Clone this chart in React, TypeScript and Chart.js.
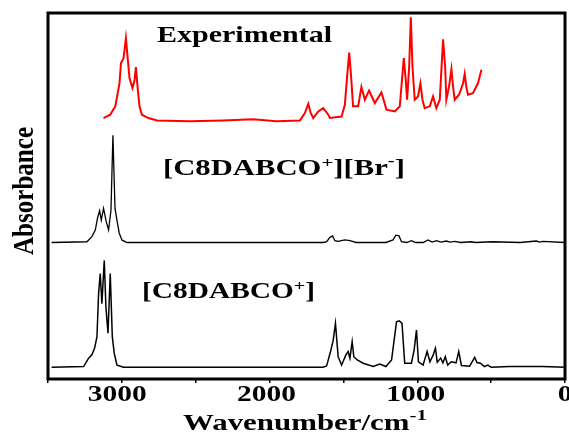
import React, { useEffect, useRef } from 'react';
import { Chart, registerables } from 'chart.js';

Chart.register(...registerables);

// ---- Experimental spectrum (red) ----
const EXP_WAVENUMBER = [
  3092, 3047, 3013, 2985, 2975, 2958, 2942, 2931, 2918, 2898, 2884, 2875, 2864, 2851, 2835, 2791,
  2734, 2512, 2291, 2090, 1932, 1776, 1742, 1720, 1704, 1687, 1653, 1620, 1586, 1575, 1497, 1475,
  1460, 1446, 1433, 1420, 1386, 1364, 1341, 1313, 1274, 1230, 1196, 1140, 1107, 1080, 1067, 1058,
  1044, 1033, 1022, 1007, 985, 969, 955, 940, 906, 884, 862, 839, 817, 803, 795, 777, 761, 750,
  739, 710, 694, 683, 672, 660, 650, 617, 583, 560,
];
const EXP_ABSORBANCE = [
  1.3, 2.2, 4.5, 10.8, 16.3, 17.6, 23.1, 18.1, 12.2, 9.5, 11.7, 15.2, 9.9, 4.5, 2.2, 1.3,
  0.65, 0.4, 0.65, 1.0, 0.4, 0.65, 2.7, 5.2, 2.7, 1.3, 3.1, 4.0, 2.2, 1.3, 1.7, 4.9,
  12.6, 19.2, 12.6, 4.5, 4.5, 9.8, 6.3, 8.8, 5.4, 8.3, 3.6, 3.1, 4.5, 17.7, 11.7, 6.3,
  15.4, 28.8, 15.4, 6.3, 7.2, 10.8, 6.3, 4.0, 4.5, 7.2, 4.0, 6.3, 22.8, 15.4, 6.3, 9.9, 14.7, 9.9,
  6.3, 7.7, 9.5, 10.8, 13.4, 9.5, 7.7, 8.1, 10.8, 14.5,
];

// ---- [C8DABCO+][Br-] calculated spectrum (middle) ----
const BR_WAVENUMBER = [
  3440, 3203, 3170, 3147, 3132, 3118, 3107, 3092, 3074, 3058, 3042, 3029, 3015, 3002, 2987, 2969,
  2935, 1620, 1597, 1575, 1557, 1542, 1520, 1475, 1441, 1400, 1200, 1152, 1134, 1112, 1096, 1060,
  1029, 1000, 950, 918, 890, 862, 830, 795, 770, 739, 700, 628, 600, 485, 300, 192, 170, 148, 0,
];
const BR_ABSORBANCE = [
  0, 0.2, 1.6, 3.4, 6.7, 8.7, 6.1, 9.3, 5.7, 3.4, 8.9, 29.3, 9.3, 6.1, 2.6, 0.7,
  0, 0, 0.2, 1.4, 1.8, 0.5, 0.3, 0.7, 0.5, 0, 0, 0.7, 2.0, 1.8, 0.2, 0,
  0.5, 0, 0, 0.7, 0.1, 0.5, 0.1, 0.4, 0.1, 0.3, 0, 0.2, 0, 0.2, 0, 0.4, 0.1, 0.3, 0,
];

// ---- [C8DABCO+] calculated spectrum (bottom) ----
const CAT_WAVENUMBER = [
  3440, 3225, 3192, 3170, 3152, 3136, 3125, 3114, 3103, 3087, 3076, 3062, 3047, 3033, 3020, 3002,
  2958, 1620, 1597, 1571, 1553, 1538, 1520, 1497, 1468, 1453, 1441, 1426, 1415, 1392, 1352, 1285,
  1241, 1200, 1162, 1129, 1111, 1092, 1074, 1029, 1011, 995, 982, 951, 924, 905, 883, 868,
  856, 833, 818, 802, 786, 762, 745, 730, 712, 694, 639, 605, 590, 567, 540, 517,
  495, 371, 150, 0,
];
const CAT_ABSORBANCE = [
  0, 0.2, 2.5, 3.4, 5.2, 8.3, 20.2, 25.6, 17.4, 29.2, 16.5, 9.3, 25.6, 8.3, 3.8, 0.6,
  0, 0, 0.4, 4.3, 7.4, 12.0, 2.9, 0.6, 3.4, 4.3, 2.5, 7.0, 2.9, 2.0, 1.1, 0.2,
  0.9, 0.2, 2.0, 12.4, 12.7, 12.0, 1.1, 1.1, 4.7, 10.2, 1.5, 0.6, 4.3, 1.5, 3.4, 5.2,
  1.4, 2.5, 1.2, 2.9, 0.6, 1.5, 1.4, 1.2, 4.3, 0.5, 0.3, 2.7, 1.3, 1.1, 0.2, 0.6,
  0, 0.2, 0.2, 0,
];

const EXP_OFFSET = 70;
const BR_OFFSET = 37.3;
const CAT_OFFSET = 3.2;

const X_TICK_VALUES = [3000, 2000, 1000, 0];
const X_TICK_LABELS = ['3000', '2000', '1000', '0'];

const FONT = '"Liberation Serif", "Times New Roman", serif';

type Seg = { t: string; sup?: boolean; raise?: number };
type RichOpts = {
  x: number;
  y: number;
  size: number;
  width?: number;
  sx?: number;
  cross?: number;
  align?: 'left' | 'center';
  rotate?: boolean;
};

function drawRich(ctx: CanvasRenderingContext2D, segs: Seg[], o: RichOpts) {
  const supScale = 0.68;
  const fontFor = (s: Seg) => `bold ${s.sup ? o.size * supScale : o.size}px ${FONT}`;
  let natural = 0;
  const widths = segs.map((s) => {
    ctx.font = fontFor(s);
    const w = ctx.measureText(s.t).width;
    natural += w;
    return w;
  });
  const sx = o.width ? o.width / natural : o.sx ?? 1;
  ctx.save();
  ctx.translate(o.x, o.y);
  if (o.rotate) ctx.rotate(-Math.PI / 2);
  ctx.scale(sx, o.cross ?? 1);
  let cx = o.align === 'center' ? -natural / 2 : 0;
  ctx.textAlign = 'left';
  ctx.textBaseline = 'alphabetic';
  ctx.fillStyle = '#000';
  segs.forEach((s, i) => {
    ctx.font = fontFor(s);
    ctx.fillText(s.t, cx, s.sup ? -o.size * (s.raise ?? 0.38) : 0);
    cx += widths[i];
  });
  ctx.restore();
}

const frameTextPlugin = {
  id: 'frameText',
  afterDraw(chart: any) {
    const { ctx, chartArea: a, scales } = chart;
    ctx.save();
    ctx.strokeStyle = '#000';
    ctx.lineWidth = 3;
    ctx.strokeRect(a.left, a.top, a.right - a.left, a.bottom - a.top);
    ctx.restore();

    X_TICK_VALUES.forEach((v, i) => {
      const px = scales.x.getPixelForValue(v);
      drawRich(ctx, [{ t: X_TICK_LABELS[i] }], { x: px, y: a.bottom + 22, size: 23, sx: 1.28, align: 'center' });
    });

    drawRich(ctx, [{ t: 'Wavenumber/cm' }, { t: '-1', sup: true, raise: 0.42 }], {
      x: 183,
      y: 430,
      size: 23,
      width: 244,
    });

    drawRich(ctx, [{ t: 'Absorbance' }], { x: 33, y: 191, size: 24, width: 128, cross: 1.2, align: 'center', rotate: true });

    drawRich(ctx, [{ t: 'Experimental' }], { x: 157, y: 42, size: 23, width: 175 });

    drawRich(
      ctx,
      [
        { t: '[C8DABCO' },
        { t: '+', sup: true, raise: 0.34 },
        { t: '][Br' },
        { t: '-', sup: true, raise: 0.45 },
        { t: ']' },
      ],
      { x: 163, y: 175, size: 23, width: 242 }
    );

    drawRich(ctx, [{ t: '[C8DABCO' }, { t: '+', sup: true, raise: 0.34 }, { t: ']' }], {
      x: 142,
      y: 298,
      size: 23,
      width: 173,
    });
  },
};

function toPoints(xs: number[], ys: number[], offset: number) {
  return xs.map((x, i) => ({ x, y: ys[i] + offset }));
}

export default function App() {
  const ref = useRef<HTMLCanvasElement | null>(null);

  useEffect(() => {
    if (!ref.current) return;
    const chart = new Chart(ref.current, {
      type: 'scatter',
      data: {
        datasets: [
          {
            label: 'Experimental',
            data: toPoints(EXP_WAVENUMBER, EXP_ABSORBANCE, EXP_OFFSET),
            showLine: true,
            borderColor: 'rgb(255,0,0)',
            borderWidth: 2,
            pointRadius: 0,
          },
          {
            label: '[C8DABCO+][Br-]',
            data: toPoints(BR_WAVENUMBER, BR_ABSORBANCE, BR_OFFSET),
            showLine: true,
            borderColor: '#000',
            borderWidth: 1.3,
            pointRadius: 0,
          },
          {
            label: '[C8DABCO+]',
            data: toPoints(CAT_WAVENUMBER, CAT_ABSORBANCE, CAT_OFFSET),
            showLine: true,
            borderColor: '#000',
            borderWidth: 1.5,
            pointRadius: 0,
          },
        ],
      },
      options: {
        animation: false,
        responsive: false,
        layout: { padding: { left: 48, right: 4, top: 13, bottom: 49 } },
        plugins: { legend: { display: false }, tooltip: { enabled: false } },
        elements: { line: { tension: 0 }, point: { radius: 0 } },
        scales: {
          x: {
            type: 'linear',
            reverse: true,
            min: 0,
            max: 3464,
            ticks: { display: false, stepSize: 500, includeBounds: false },
            grid: {
              display: true,
              drawOnChartArea: false,
              drawTicks: true,
              tickLength: 4,
              color: '#000',
              lineWidth: 1.5,
            },
            border: { display: false },
          },
          y: { display: false, min: 0, max: 100 },
        },
      },
      plugins: [frameTextPlugin],
    });
    return () => chart.destroy();
  }, []);

  return (
    <div style={{ position: 'fixed', left: 0, top: 0, width: 569, height: 432, background: '#fff' }}>
      <canvas ref={ref} width={569} height={432} style={{ display: 'block' }} />
    </div>
  );
}
